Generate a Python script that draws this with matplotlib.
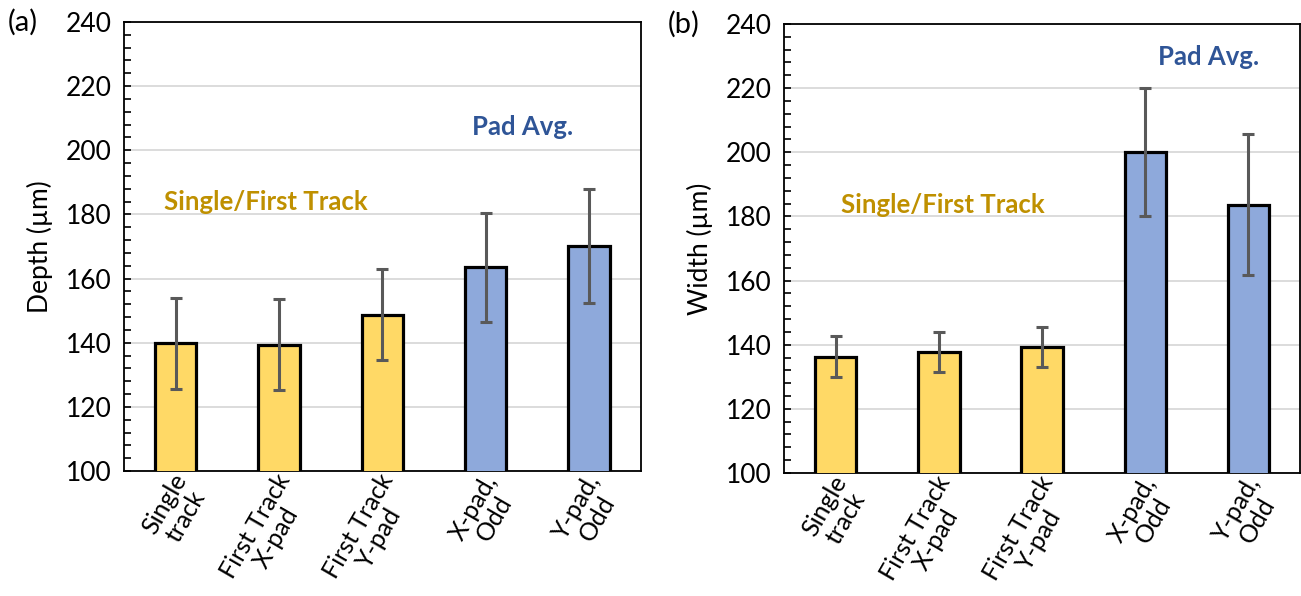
import matplotlib
matplotlib.use("Agg")
import matplotlib.pyplot as plt
import matplotlib.transforms as mtransforms
from matplotlib.ticker import MultipleLocator

plt.rcParams['font.family'] = ['Lato', 'DejaVu Sans']

categories = ["Single\ntrack", "First Track\nX-pad", "First Track\nY-pad", "X-pad,\nOdd", "Y-pad,\nOdd"]

depth_mean = [139.8, 139.4, 148.7, 163.6, 170.2]
depth_err = [14.2, 14.2, 14.2, 17.0, 17.7]

width_mean = [136.3, 137.8, 139.4, 200.0, 183.7]
width_err = [6.3, 6.2, 6.2, 20.0, 22.0]

bar_colors = ["#FFD966", "#FFD966", "#FFD966", "#8EA9DB", "#8EA9DB"]
track_color = "#BF9000"
pad_color = "#2F5597"

fig = plt.figure(figsize=(13.01, 5.96), dpi=100)
ax_a = fig.add_axes([0.0953, 0.2097, 0.3972, 0.7534])
ax_b = fig.add_axes([0.6028, 0.2064, 0.3964, 0.7534])


def draw_panel(ax, means, errs, ylabel, tag, track_xy, pad_xy):
    x = list(range(len(categories)))
    ax.bar(x, means, width=0.4, color=bar_colors, edgecolor="black",
           linewidth=2.3, zorder=3)
    ax.errorbar(x, means, yerr=errs, fmt="none", ecolor="#595959",
                elinewidth=2.2, capsize=4, capthick=2.2, zorder=4)
    ax.set_xlim(-0.5, len(categories) - 0.5)
    ax.set_ylim(100, 240)
    ax.yaxis.set_major_locator(MultipleLocator(20))
    ax.yaxis.set_minor_locator(MultipleLocator(4))
    ax.grid(axis="y", which="major", color="#D9D9D9", linewidth=1.3, zorder=0)
    ax.set_axisbelow(True)
    ax.tick_params(axis="y", which="both", direction="in", length=5,
                   width=1.2, labelsize=19, pad=9)
    ax.tick_params(axis="x", which="both", length=0, labelsize=18)
    for s in ax.spines.values():
        s.set_linewidth(1.3)
    ax.set_xticks(x)
    offset = mtransforms.ScaledTranslation(0.16, -0.06, fig.dpi_scale_trans)
    ax.set_xticklabels(categories, rotation=60, ha="right", va="center",
                       rotation_mode="anchor", multialignment="center",
                       linespacing=1.05)
    for lab in ax.get_xticklabels():
        lab.set_transform(lab.get_transform() + offset)
    ax.set_ylabel(ylabel, fontsize=19, labelpad=9)
    ax.text(-0.225, 1.0, tag, transform=ax.transAxes, fontsize=21,
            ha="left", va="center")
    ax.text(track_xy[0], track_xy[1], "Single/First Track", color=track_color,
            fontsize=18.5, fontweight="bold", ha="center", va="center")
    ax.text(pad_xy[0], pad_xy[1], "Pad Avg.", color=pad_color,
            fontsize=18.5, fontweight="bold", ha="center", va="center")


draw_panel(ax_a, depth_mean, depth_err, "Depth (µm)", "(a)",
           (0.87, 183.9), (3.36, 207.3))
draw_panel(ax_b, width_mean, width_err, "Width (µm)", "(b)",
           (1.04, 183.6), (3.61, 229.7))

fig.savefig("out.png", dpi=100)
